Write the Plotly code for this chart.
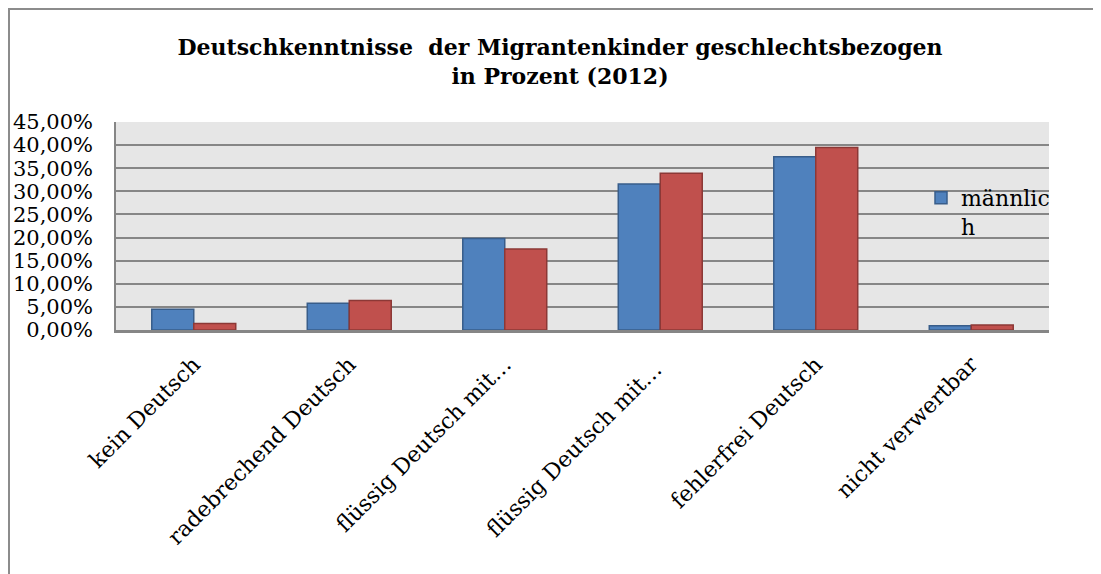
import plotly.graph_objects as go

categories = ["kein Deutsch", "radebrechend Deutsch", "flüssig Deutsch mit…",
              "flüssig Deutsch mit… ", "fehlerfrei Deutsch", "nicht verwertbar"]
maennlich = [0.045, 0.058, 0.198, 0.316, 0.375, 0.009]
weiblich = [0.014, 0.064, 0.175, 0.339, 0.395, 0.011]
y_ticks = [0, 0.05, 0.10, 0.15, 0.20, 0.25, 0.30, 0.35, 0.40, 0.45]

W, H = 1101, 574
OFF = 8  # page body margin offset
L, T = 116 - OFF, 122 - OFF
R = W - (1049 - OFF)
B = H - (330 - OFF)
FONT = "DejaVu Serif"

fig = go.Figure()
fig.add_trace(go.Bar(x=categories, y=maennlich, name="männlic<br>h",
                     marker=dict(color="#4F81BD", line=dict(color="#385D8A", width=1.5))))
fig.add_trace(go.Bar(x=categories, y=weiblich, name="weiblich", showlegend=False,
                     marker=dict(color="#C0504D", line=dict(color="#8C3836", width=1.5))))

pw, ph = W - L - R, H - T - B
def px_x(v):
    return (v - L) / pw
def px_y(v):
    return (H - B - v) / ph

fig.update_layout(
    width=W, height=H,
    margin=dict(l=L, r=R, t=T, b=B, autoexpand=False),
    paper_bgcolor="white", plot_bgcolor="#E6E6E6",
    separators=",.",
    barmode="group", bargap=0.46, bargroupgap=0,
    font=dict(family=FONT, size=21, color="black"),
    title=dict(text="<b>Deutschkenntnisse  der Migrantenkinder geschlechtsbezogen<br>in Prozent (2012)</b>",
               x=552 / W, xanchor="center", y=1 - 47 / H, yanchor="top",
               font=dict(family=FONT, size=22, color="black")),
    legend=dict(x=px_x(913), y=px_y(169), xanchor="left", yanchor="top",
                bgcolor="rgba(0,0,0,0)", valign="top",
                font=dict(family=FONT, size=22, color="black"),
                itemwidth=30, tracegroupgap=0),
    xaxis=dict(showgrid=False, showline=True, linecolor="#868686", linewidth=2.5,
               tickangle=-45, ticks="", tickfont=dict(family=FONT, size=22),
               ticklabelstandoff=10),
    yaxis=dict(range=[0, 0.45], tickvals=y_ticks, tickformat=".2%",
               showgrid=True, gridcolor="#868686", gridwidth=1.5,
               showline=True, linecolor="#868686", linewidth=1.5,
               ticks="", zeroline=False, tickfont=dict(family=FONT, size=21),
               ticklabelstandoff=17),
    shapes=[
        dict(type="line", xref="paper", yref="paper", x0=px_x(0), x1=px_x(W), y0=px_y(1), y1=px_y(1),
             line=dict(color="#8C8C8C", width=2)),
        dict(type="line", xref="paper", yref="paper", x0=px_x(1), x1=px_x(1), y0=px_y(1), y1=px_y(H),
             line=dict(color="#8C8C8C", width=2)),
    ],
)

fig.write_html("out.html")
